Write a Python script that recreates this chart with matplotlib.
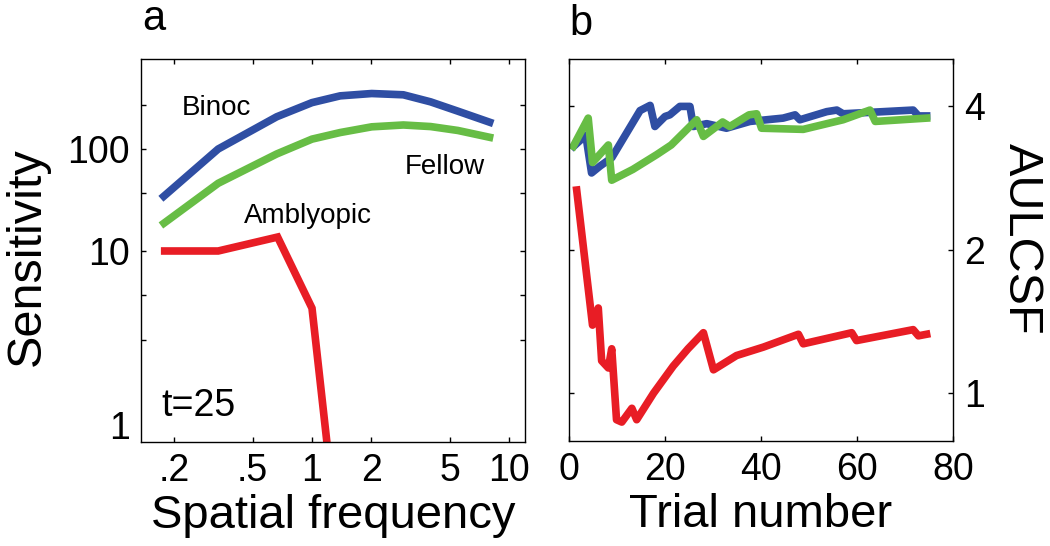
import numpy as np
import matplotlib
matplotlib.use("Agg")
import matplotlib.pyplot as plt
from matplotlib.ticker import FixedLocator, FixedFormatter, NullLocator

plt.rcParams['font.family'] = ['Liberation Sans', 'DejaVu Sans']

# ---------------- data: panel a (CSF at t=25) ----------------
freq = [0.171, 0.334, 0.662, 1.0, 1.39, 2.01, 2.91, 4.0, 5.5, 8.32]
binoc = [32.5, 100, 207, 285, 332, 350, 340, 290, 235, 178]
fellow = [17.8, 46.1, 89.4, 125, 145, 165, 172, 166, 152, 128]
amb_freq = [0.171, 0.334, 0.669, 1.0, 1.39]
amblyopic = [10, 10, 13.7, 2.75, 0.009]

freq_ticks = [0.2, 0.5, 1, 2, 5, 10]
freq_ticklabels = ['.2', '.5', '1', '2', '5', '10']
sens_ticks = [271.8, 100, 36.8, 10, 3.68, 1.35]
sens_ticklabels = ['', '100', '', '10', '', '']
sens_extra_tick = [0.197]
sens_extra_label = ['1']

# ---------------- data: panel b (AULCSF vs trial) ----------------
t_binoc = [1, 3.5, 4.7, 6.5, 8.9, 14.8, 16.9, 17.9, 20, 21, 23.1, 25.2, 25.9,
           28.7, 32.8, 37.7, 44.6, 47.1, 48.1, 53.7, 55.8, 57.1, 65.5, 71.7, 72.8, 74.5]
v_binoc = [3.30, 3.48, 2.90, 3.00, 3.12, 3.92, 4.02, 3.63, 3.81, 3.84, 4.00, 4.00, 3.63,
           3.68, 3.60, 3.72, 3.78, 3.84, 3.75, 3.90, 3.93, 3.86, 3.90, 3.93, 3.82, 3.82]
t_fellow = [0.9, 4.0, 4.9, 8.2, 8.9, 13.3, 18.3, 21.3, 26.6, 28.0, 32.0, 33.5, 37.5,
            39.1, 40.1, 48.8, 57.1, 62.7, 63.8, 74.5]
v_fellow = [3.30, 3.78, 3.05, 3.32, 2.80, 2.95, 3.17, 3.32, 3.75, 3.46, 3.71, 3.63, 3.84,
            3.86, 3.60, 3.58, 3.75, 3.93, 3.72, 3.78]
t_amb = [1.6, 4.9, 6.1, 6.8, 8.2, 8.9, 9.9, 11.0, 13.1, 14.1, 17.6, 21.7, 24.8, 28.0,
         30.1, 34.9, 40.5, 47.8, 48.8, 58.9, 59.9, 71.7, 72.8, 74.5]
v_amb = [2.67, 1.39, 1.51, 1.17, 1.13, 1.24, 0.88, 0.87, 0.93, 0.88, 1.00, 1.14, 1.24, 1.34,
         1.12, 1.20, 1.25, 1.33, 1.27, 1.34, 1.29, 1.36, 1.32, 1.33]

trial_ticks = [0, 20, 40, 60, 80]
aulcsf_ticks = [1, 2, 4]

BLUE = '#2f4ea3'
GREEN = '#67bd45'
RED = '#e81d25'
LW = 5.5

fig = plt.figure(figsize=(10.5, 5.46), dpi=100)
W, H = 1050, 546
axa = fig.add_axes([141 / W, 1 - 442 / H, 384 / W, 383 / H])
axb = fig.add_axes([569 / W, 1 - 441 / H, 384 / W, 382 / H])

# ---------- panel a ----------
axa.plot(freq, binoc, color=BLUE, lw=LW, solid_joinstyle='miter', solid_capstyle='butt')
axa.plot(freq, fellow, color=GREEN, lw=LW, solid_joinstyle='miter', solid_capstyle='butt')
axa.plot(amb_freq, amblyopic, color=RED, lw=LW, solid_joinstyle='miter', solid_capstyle='butt')
axa.set_xscale('log')
axa.set_yscale('log')
axa.set_xlim(0.1355, 12.06)
axa.set_ylim(0.134, 763)
axa.xaxis.set_major_locator(FixedLocator(freq_ticks))
axa.xaxis.set_major_formatter(FixedFormatter(freq_ticklabels))
axa.xaxis.set_minor_locator(NullLocator())
axa.yaxis.set_major_locator(FixedLocator(sens_ticks))
axa.yaxis.set_major_formatter(FixedFormatter(sens_ticklabels))
axa.yaxis.set_minor_locator(FixedLocator(sens_extra_tick))
axa.yaxis.set_minor_formatter(FixedFormatter(sens_extra_label))
axa.tick_params(which='major', direction='in', length=3.5, width=1.0,
                top=True, right=True, labelsize=27, pad=8)
axa.tick_params(which='minor', direction='in', length=0, left=True, right=False,
                labelsize=27, pad=8)
axa.set_xlabel('Spatial frequency', fontsize=34)
axa.xaxis.set_label_coords(0.5, -0.135)
axa.set_ylabel('Sensitivity', fontsize=35)
axa.yaxis.set_label_coords(-0.237, 0.484)

axa.text(0.197, 0.854, 'Binoc', transform=axa.transAxes, fontsize=20, ha='center', va='baseline')
axa.text(0.792, 0.700, 'Fellow', transform=axa.transAxes, fontsize=20, ha='center', va='baseline')
axa.text(0.436, 0.573, 'Amblyopic', transform=axa.transAxes, fontsize=20, ha='center', va='baseline')
axa.text(0.054, 0.068, 't=25', transform=axa.transAxes, fontsize=27, ha='left', va='baseline')

# ---------- panel b ----------
axb.plot(t_amb, v_amb, color=RED, lw=LW)
axb.plot(t_binoc, v_binoc, color=BLUE, lw=LW)
axb.plot(t_fellow, v_fellow, color=GREEN, lw=LW)
axb.set_yscale('log')
axb.set_xlim(0, 80)
axb.set_ylim(0.794, 5.03)
axb.xaxis.set_major_locator(FixedLocator(trial_ticks))
axb.xaxis.set_major_formatter(FixedFormatter([str(v) for v in trial_ticks]))
axb.yaxis.set_major_locator(FixedLocator(aulcsf_ticks))
axb.yaxis.set_major_formatter(FixedFormatter([str(v) for v in aulcsf_ticks]))
axb.yaxis.set_minor_locator(NullLocator())
axb.tick_params(which='major', direction='in', length=3.5, width=1.0,
                top=True, left=True, right=True, labelleft=False, labelright=True,
                labelsize=27, pad=8)
axb.set_xlabel('Trial number', fontsize=34)
axb.xaxis.set_label_coords(0.5, -0.135)
axb.yaxis.set_label_position('right')
axb.set_ylabel('AULCSF', fontsize=35, rotation=-90, va='bottom')
axb.yaxis.set_label_coords(1.12, 0.53)

for ax in (axa, axb):
    for s in ax.spines.values():
        s.set_linewidth(1.0)

fig.text(154 / W, 1 - 30 / H, 'a', fontsize=30, ha='center', va='baseline')
fig.text(581 / W, 1 - 35 / H, 'b', fontsize=30, ha='center', va='baseline')

fig.savefig('out.png', dpi=100)
